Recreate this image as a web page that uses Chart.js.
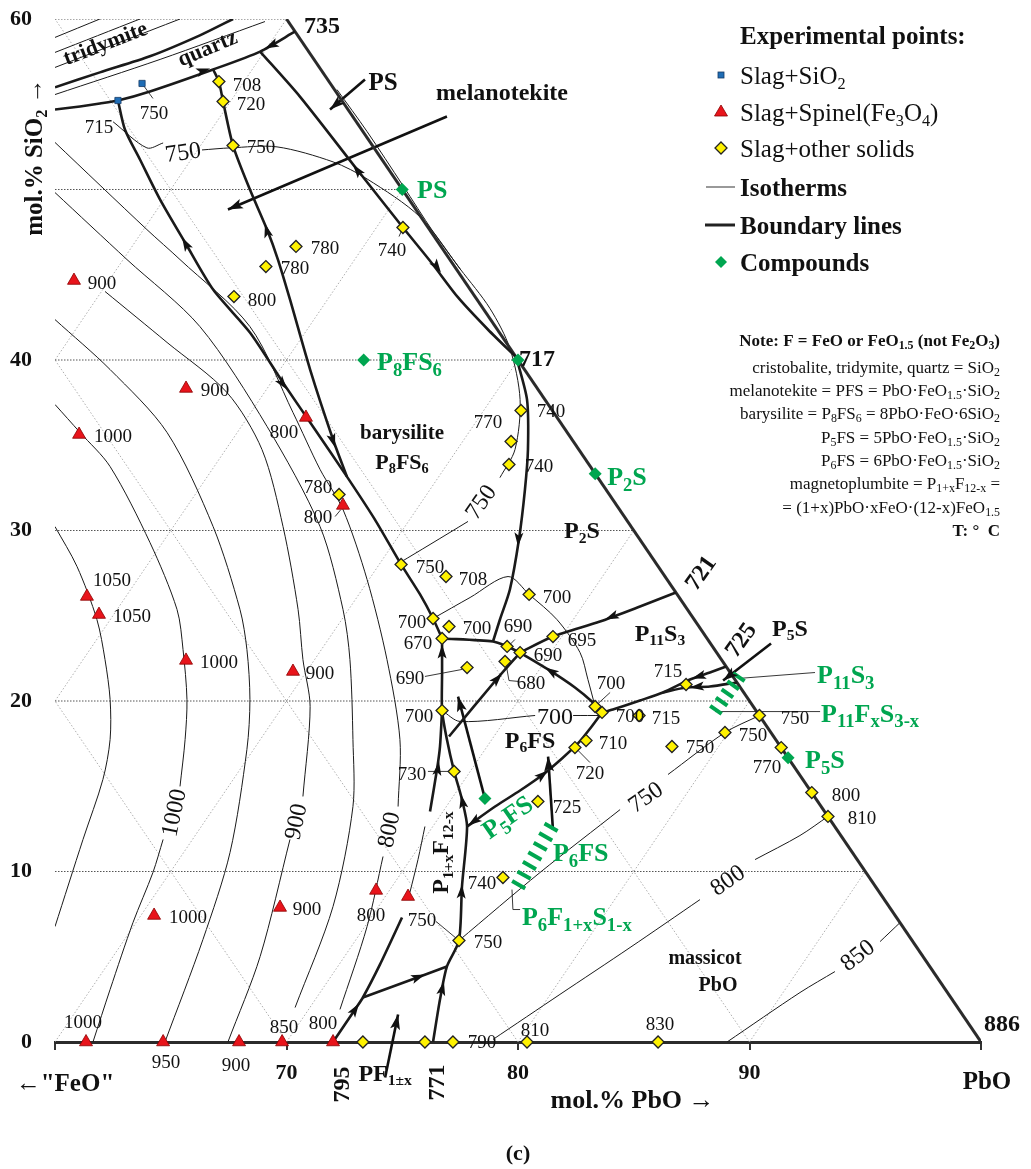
<!DOCTYPE html>
<html>
<head>
<meta charset="utf-8">
<title>PbO – "FeO" – SiO2 liquidus projection</title>
<script src="https://cdn.jsdelivr.net/npm/chart.js@4.4.1/dist/chart.umd.min.js"></script>
<style>
html,body{margin:0;padding:0;background:#fff;}
canvas{display:block;}
</style>
</head>
<body>
<canvas id="chart" width="1031" height="1169"></canvas>
<script>
// Plot coordinates of the ternary projection:
//   x = mol% PbO + ½·mol% SiO2,   y = mol% SiO2
const SERIF = '"Liberation Serif","Times New Roman",serif';
const GREEN = '#00a650';

// ---------- experimental points ----------
const slagSiO2   = [[62.72,55.22],[63.76,56.22]];
const slagSiO2T  = [715, 750];

const slagSpinel = [
  [60.82,44.66],[65.66,38.33],[61.04,35.63],[70.84,36.63],[72.44,31.47],
  [61.38,26.13],[61.90,25.07],[65.66,22.38],[70.28,21.73],[64.28,7.42],
  [69.72,7.89],[73.87,8.89],[75.25,8.53],[61.34,0],[64.67,0],
  [67.95,0],[69.81,0],[72.01,0]];
const slagSpinelT = [900,900,1000,800,800,1050,1050,1000,900,1000,900,800,750,1000,950,900,850,800];

const slagOther = [
  [67.08,56.33],[67.26,55.16],[67.69,52.58],[70.41,46.66],[69.11,45.48],
  [67.73,43.72],[75.03,47.77],[72.27,32.11],[80.13,37.04],[79.70,35.22],
  [79.61,33.87],[74.95,28.01],[76.89,27.30],[80.48,26.25],[76.33,24.84],
  [77.02,24.37],[76.72,23.67],[79.53,23.20],[80.09,22.84],[81.51,23.78],
  [79.44,22.32],[77.80,21.96],[76.72,19.44],[83.33,19.68],[83.63,19.33],
  [85.23,19.15],[82.94,17.68],[82.46,17.27],[86.65,17.33],[87.26,20.97],
  [90.43,19.15],[88.94,18.15],[91.37,17.27],[92.69,14.63],[93.39,13.23],
  [77.24,15.87],[80.86,14.11],[79.35,9.65],[77.45,5.95],[73.30,0],
  [75.98,0],[77.19,0],[80.39,0],[86.05,0]];
const slagOtherT = [708,720,750,780,780,800,740,780,740,770,740,750,708,700,700,700,670,690,690,695,
  680,690,700,700,700,715,710,720,750,715,750,750,770,800,810,730,725,740,750,null,null,790,810,830];

// compounds as molar ratios PbO : FeOx : SiO2
const compoundNames    = ['PS','P3S2','P2S','P8FS6','P5FS','P5S'];
const compoundFormulas = [[1,0,1],[3,0,2],[2,0,1],[8,1,6],[5,1,1],[5,0,1]];

// solid-solution ranges
const ssP11S3 = [[89.59,21.50],[88.47,19.33]];
const ssP6FS  = [[81.47,12.70],[79.96,9.06]];

// ---------- isotherms (segments, broken where labelled) ----------
const isotherms = [
  [[60,30.23],[60.95,27.89],[61.81,24.78],[62.16,22.43],[62.38,20.09],[62.38,17.74],[62.07,15.40],[61.21,11.88],[60,6.77]],
  [[61.64,0],[62.38,3.08],[63.37,7.01],[64.23,9.94],[64.67,11.88]],
  [[65.40,14.99],[65.62,17.74],[65.70,20.09],[65.53,23.02],[65.27,25.37],[64.10,29.30],[62.38,33.75],[61.08,35.75],[60,37.39]],
  [[64.75,0],[66.39,6.01],[67.56,11.11],[68.29,17.16],[68.42,20.09],[68.29,23.02],[67.99,25.37],[66.83,30.23],[64.84,35.75],[62.38,39.44],[60,42.37]],
  [[67.47,0],[68.86,5.01],[70.15,11.88]],
  [[70.71,14.40],[71.02,19.68],[70.71,22.43],[70.50,25.37],[69.85,30.23],[68.94,34.75],[67.43,38.09],[64.84,41.03],[62.16,44.02]],
  [[70.37,2.02],[72.01,7.95],[72.87,13.81],[72.87,17.74],[72.74,22.43],[72.44,25.37],[71.45,30.23],[69.16,36.10],[66.26,41.96],[63.11,45.89],[60,49.82]],
  [[72.31,1.91],[73.48,6.77],[74.17,10.88]],
  [[74.82,13.81],[74.90,17.74],[74.34,22.43],[73.48,27.13],[72.44,31.23],[71.45,33.58],[70.28,36.92],[68.42,41.96],[65.40,45.89],[63.97,47.65],[60,52.76]],
  [[62.51,53.97],[63.97,52.44],[64.67,52.73]],
  [[66.35,52.32],[67.56,52.44],[69.59,52.50],[72.01,51.62],[73.48,50.62],[75.77,48.39],[77.50,45.34],[78.79,43.02],[79.65,40.68],[80.09,37.68],[79.87,34.75],[79.22,33.10]],
  [[77.84,30.53],[76.20,29.18],[74.90,28.12]],
  [[72.18,55.86],[73.48,53.40],[75.03,50.23],[76.33,47.53],[77.50,45.34]],
  [[75.33,8.77],[75.68,10.70],[75.98,12.64]],
  [[77.45,5.95],[80.95,9.94],[84.41,13.63]],
  [[86.48,15.69],[88.94,18.15],[90.43,19.15]],
  [[78.92,0.15],[81.81,2.79],[84.84,5.54],[87.86,8.35]],
  [[90.24,10.70],[92.18,12.11],[93.39,13.23]],
  [[89.03,0],[92.18,2.90],[93.69,4.13]],
  [[95.64,5.89],[96.50,7.00]],
  [[76.72,19.44],[77.50,18.80],[80.74,19.15]],
  [[82.38,19.15],[83.63,19.15]],
  [[76.33,24.84],[77.93,26.07],[79.57,27.30],[80.48,26.25],[81.68,24.78],[82.68,22.84],[83.02,21.26],[83.33,19.68]],
  // SiO2 primary field
  [[60,57.16],[65.40,60]],
  [[60,58.04],[63.67,60]],
  [[60,58.92],[61.94,60]],
  [[60,55.57],[64.54,57.63],[69.07,59.85]]
];

// ---------- boundary lines ----------
const boundaries = [
  [[60,54.69],[61.08,54.87],[61.94,55.04],[62.72,55.22],[64.10,55.75],[66.83,57.04],[68.86,58.09],[70.37,59.27]],
  [[60,55.99],[61.94,56.87],[64.10,57.81],[66.26,59.04],[67.69,60]],
  [[62.72,55.22],[63.02,53.52],[63.67,51.76],[64.54,49.41],[65.62,46.89],[66.83,44.13],[68.42,41.61],[69.85,38.67],[71.23,35.92],[72.61,33.16],[73.82,30.64],[74.95,28.01],[75.77,26.25],[76.33,24.84],[76.72,23.67]],
  [[66.83,57.04],[67.08,56.33],[67.26,55.16],[67.69,52.58],[68.42,50.00],[69.16,47.65],[69.63,45.89],[70.15,43.55],[71.02,39.44],[72.01,35.34],[72.61,33.16]],
  [[68.86,58.09],[70.58,55.45],[73.05,51.17],[75.03,47.77],[76.29,45.66],[77.41,43.67],[78.70,41.79],[79.93,40.15]],
  [[79.93,40.15],[80.39,37.68],[80.43,34.75],[80.30,32.40],[80.04,29.47],[79.65,26.54],[79.22,24.78],[78.92,23.49]],
  [[76.72,23.67],[78.92,23.49],[79.53,23.20],[80.09,22.84]],
  [[86.82,26.36],[85.27,25.54],[83.54,24.66],[81.51,23.78],[80.09,22.84]],
  [[80.09,22.84],[81.30,21.85],[82.46,20.79],[83.24,19.91],[83.63,19.33]],
  [[83.63,19.33],[84.10,19.50],[85.27,20.03],[86.26,20.50],[87.43,21.26],[88.29,21.67],[88.99,22.02]],
  [[86.26,20.50],[87.26,20.79],[88.29,20.85],[89.46,21.09]],
  [[83.63,19.33],[83.15,18.45],[82.59,17.51],[81.90,16.63],[81.08,15.69],[80.09,14.75],[79.01,13.81],[77.80,12.64]],
  [[76.33,0],[76.63,2.49],[76.93,4.43],[77.45,5.95],[77.58,9.12],[77.80,12.64],[77.58,14.22],[77.24,15.87],[76.93,17.74],[76.72,19.44],[76.72,21.55],[76.72,23.67]],
  [[76.72,19.44],[76.63,17.33],[76.50,15.98],[76.20,13.52]],
  [[76.93,4.43],[75.77,3.84],[73.30,2.61]],
  [[72.01,0],[72.96,1.91],[73.30,2.61],[74.04,4.55],[74.99,7.30]],
  [[77.02,17.92],[79.14,21.38],[80.09,22.84]]
];
// direction arrows on boundary lines: tip x, tip y, tail x, tail y
const boundaryArrows = [
  [66.70,57.10,66.05,56.81],[69.07,58.27,69.72,58.70],[65.49,47.18,65.83,46.36],[70.02,38.27,69.63,38.97],
  [69.07,47.99,69.24,47.17],[72.10,34.87,71.92,35.63],[72.87,51.47,73.26,50.77],[76.67,45.13,76.37,45.72],
  [80.00,29.06,80.04,29.88],[83.76,24.78,84.28,25.07],[81.17,21.97,81.51,21.67],[87.52,21.32,87.95,21.50],
  [87.43,20.79,87.86,20.85],[81.30,15.92,80.86,15.45],[77.84,12.70,78.27,13.11],[76.72,23.31,76.72,22.55],
  [77.54,14.52,77.67,13.64],[77.58,9.24,77.54,8.36],[76.80,3.55,76.67,2.79],[76.59,16.45,76.50,15.69],
  [75.98,3.96,75.42,3.67],[73.13,2.26,72.79,1.55],[79.31,21.61,78.96,21.09]
];
// pointer arrows (from, to)
const pointers = [
  [[78.57,14.29],[77.41,20.26]],
  [[81.51,12.46],[81.30,16.74]],
  [[74.26,-2.08],[74.82,1.61]],
  [[73.39,56.45],[71.88,54.69]],
  [[76.93,54.28],[67.47,48.83]],
  [[90.93,23.37],[88.86,21.20]]
];
// thin leader lines
const leaders = [
  [[92.83,21.67],[89.50,21.32]],
  [[93.05,19.38],[88.51,19.38]],
  [[79.74,8.94],[79.78,7.77],[80.09,7.77]],
  [[63.76,56.22],[64.23,55.34]],
  [[75.98,21.44],[77.58,21.85]],
  [[79.48,22.20],[79.61,21.20],[80.00,21.15]],
  [[79.57,23.20],[79.87,23.61]],
  [[83.41,19.79],[83.98,20.50]],
  [[76.11,15.87],[77.02,15.87]],
  [[82.55,17.16],[83.11,16.39]],
  [[72.10,30.82],[72.35,31.23]],
  [[76.46,7.07],[77.45,5.95]],
  [[74.86,47.24],[75.03,47.77]]
];

// ternary grid values
const gridSiO2 = [10,20,30,40,50,60];
const gridPbO  = [40,50,60,70,80,90];
const gridFeO  = [10,20,30];

// ---------- label placement (plot coordinates) ----------
const slagSiO2At = [[61.90,53.70],[64.28,54.52]];
const slagSpinelAt = [
  [62.03,44.55],[66.91,38.27],[62.51,35.57],[69.89,35.81],[71.36,30.82],
  [62.46,27.13],[63.33,25.01],[67.08,22.32],[71.45,21.67],[65.75,7.36],
  [70.89,7.83],[73.65,7.48],[75.85,7.18],[61.21,1.20],[64.79,-1.14],
  [67.82,-1.32],[69.89,0.91],[71.58,1.14]];
const slagOtherAt = [
  [68.29,56.16],[68.47,55.04],[68.90,52.52],[71.66,46.60],[70.37,45.43],
  [68.94,43.55],[74.56,46.48],[71.36,32.58],[81.43,37.04],[78.70,36.39],
  [80.91,33.81],[76.20,27.89],[78.06,27.18],[81.68,26.13],[75.42,24.66],
  [78.23,24.31],[75.68,23.43],[80.00,24.43],[81.30,22.73],[82.76,23.61],
  [80.56,21.09],[75.33,21.38],[75.72,19.15],[84.02,21.09],[84.84,19.15],
  [86.39,19.03],[84.10,17.57],[83.11,15.81],[87.86,17.33],[86.48,21.79],
  [91.97,19.03],[90.15,18.04],[90.76,16.16],[94.17,14.52],[94.86,13.17],
  [75.42,15.75],[82.12,13.81],[78.45,9.35],[78.70,5.89],null,
  null,[78.45,0],[80.73,0.73],[86.13,1.09]];

// [text, x, y, size, rotation]
const fieldLabels = [
  ['tridymite',62.16,58.62,22,-21],['quartz',66.57,58.33,22,-23],['PS',74.17,56.33,25,0],
  ['melanotekite',79.31,55.75,24,0],['barysilite',74.99,35.81,21,0],['P_8FS_6',74.99,34.05,22,0],
  ['P_2S',82.76,30.05,24,0],['P_{11}S_3',86.13,24.02,24,0],['P_5S',91.75,24.31,24,0],
  ['P_6FS',80.52,17.74,24,0],['P_{1+x}F_{12-x}',76.63,11.11,24,-90],['massicot',88.08,4.96,20,0],
  ['PbO',88.64,3.37,20,0],['PF_{1±x}',74.26,-1.79,24,0],['721',87.86,27.54,24,-55],
  ['725',89.59,23.61,24,-55],['735',71.53,59.68,24,0],['717',80.82,40.15,24,0],
  ['886',100.91,1.14,24,0],['795',72.35,-2.49,24,-90],['771',76.46,-2.38,24,-90]
];
// [text, x, y, rotation, align]
const compoundLabels = [
  ['PS',75.64,50.0,0,'left'],['P_8FS_6',73.91,39.91,0,'left'],['P_2S',83.85,33.16,0,'left'],
  ['P_5S',92.40,16.57,0,'left'],['P_{11}S_3',92.92,21.55,0,'left'],['P_{11}F_xS_{3-x}',93.09,19.27,0,'left'],
  ['P_6FS',81.51,11.11,0,'left'],['P_6F_{1+x}S_{1-x}',80.17,7.36,0,'left'],['P_5FS',79.53,13.22,-35,'center']
];
// [text, x, y, rotation]
const isothermLabels = [
  ['750',65.53,52.23,-8],['1000',65.10,13.46,-78],['900',70.37,12.93,-78],['800',74.38,12.46,-78],
  ['750',78.36,31.70,-55],['700',81.60,19.15,0],['750',85.49,14.40,-35],['800',89.03,9.53,-35],['850',94.64,5.13,-38]
];

const noteLines = [
  ['Note: F = FeO or FeO_{1.5} (not Fe_2O_3)', true],
  ['cristobalite, tridymite, quartz = SiO_2', false],
  ['melanotekite = PFS = PbO·FeO_{1.5}·SiO_2', false],
  ['barysilite = P_8FS_6 = 8PbO·FeO·6SiO_2', false],
  ['P_5FS = 5PbO·FeO_{1.5}·SiO_2', false],
  ['P_6FS = 6PbO·FeO_{1.5}·SiO_2', false],
  ['magnetoplumbite = P_{1+x}F_{12-x} =', false],
  ['= (1+x)PbO·xFeO·(12-x)FeO_{1.5}', false],
  ['T: °  C', true]
];

// ---------- helpers ----------
const pts = a => a.map(p => ({x: p[0], y: p[1]}));
function ternary(f) { const t = f[0] + f[1] + f[2]; const pb = 100 * f[0] / t, si = 100 * f[2] / t; return [pb + si / 2, si]; }
const compounds = compoundFormulas.map(ternary);

function fontStr(size, bold) { return (bold ? 'bold ' : '') + size + 'px ' + SERIF; }
function parseRich(s) {
  const out = []; let buf = ''; let i = 0;
  while (i < s.length) {
    const c = s[i];
    if (c === '_') {
      if (buf) { out.push({t: buf, sub: false}); buf = ''; }
      if (s[i + 1] === '{') { const j = s.indexOf('}', i); out.push({t: s.slice(i + 2, j), sub: true}); i = j + 1; }
      else { out.push({t: s[i + 1], sub: true}); i += 2; }
    } else { buf += c; i++; }
  }
  if (buf) out.push({t: buf, sub: false});
  return out;
}
function rich(ctx, str, x, y, o) {
  const segs = parseRich(str);
  const size = o.size, ss = size * (o.sub || 0.65);
  let w = 0;
  segs.forEach(s => { ctx.font = fontStr(s.sub ? ss : size, o.bold); s.w = ctx.measureText(s.t).width; w += s.w; });
  ctx.save();
  ctx.translate(x, y);
  if (o.rot) ctx.rotate(o.rot * Math.PI / 180);
  ctx.fillStyle = o.color || '#111';
  ctx.textAlign = 'left';
  ctx.textBaseline = 'alphabetic';
  let cx = o.align === 'left' ? 0 : (o.align === 'right' ? -w : -w / 2);
  const base = size * 0.34;
  segs.forEach(s => { ctx.font = fontStr(s.sub ? ss : size, o.bold); ctx.fillText(s.t, cx, s.sub ? base + size * 0.2 : base); cx += s.w; });
  ctx.restore();
}
function head(ctx, x1, y1, x2, y2, len, wid) {
  const a = Math.atan2(y2 - y1, x2 - x1);
  ctx.save();
  ctx.translate(x2, y2); ctx.rotate(a);
  ctx.beginPath();
  ctx.moveTo(0, 0); ctx.lineTo(-len, wid / 2); ctx.lineTo(-len * 0.78, 0); ctx.lineTo(-len, -wid / 2);
  ctx.closePath();
  ctx.fillStyle = '#111'; ctx.fill();
  ctx.restore();
}

// ---------- datasets ----------
const datasets = [];
function addLine(data, color, width, extra) {
  datasets.push(Object.assign({
    data: pts(data), showLine: true, pointRadius: 0, pointHoverRadius: 0,
    borderColor: color, backgroundColor: color, borderWidth: width, fill: false, tension: 0, order: 5
  }, extra || {}));
}
// markers (drawn on top)
datasets.push({ data: pts(slagOther), pointStyle: 'rectRot', pointRadius: 6, backgroundColor: '#fff200', borderColor: '#222', borderWidth: 1.3, showLine: false, order: 0, clip: false });
datasets.push({ data: pts(slagSpinel), pointStyle: 'triangle', pointRadius: 7.5, backgroundColor: '#e8141b', borderColor: '#8a0000', borderWidth: 0.8, showLine: false, order: 0, clip: false });
datasets.push({ data: pts(slagSiO2), pointStyle: 'rect', pointRadius: 4.4, backgroundColor: '#1f6db5', borderColor: '#163b66', borderWidth: 0.8, showLine: false, order: 0, clip: false });
datasets.push({ data: pts(compounds), pointStyle: 'rectRot', pointRadius: 6.5, backgroundColor: GREEN, borderColor: GREEN, borderWidth: 0, showLine: false, order: 0, clip: false });
// solid solution bars
addLine(ssP11S3, GREEN, 14, { borderDash: [4, 6], order: 1, borderCapStyle: 'butt' });
addLine(ssP6FS, GREEN, 15, { borderDash: [4, 7], order: 1, borderCapStyle: 'butt' });
// boundary lines and the PbO–SiO2 edge
boundaries.forEach(b => addLine(b, '#1a1a1a', 2.6, { tension: 0.25, order: 2 }));
addLine([[70, 60], [100, 0]], '#2b2b2b', 3, { order: 2 });
pointers.forEach(p => addLine(p, '#111', 2.6, { order: 2, clip: false }));
// isotherms and leaders
isotherms.forEach(s => addLine(s, '#1a1a1a', 1, { tension: 0.3, order: 3 }));
leaders.forEach(l => addLine(l, '#222', 0.9, { order: 3 }));
// ternary grid
gridSiO2.forEach(s => addLine([[60, s], [100 - s / 2, s]], '#555', 1, { borderDash: [1.5, 1.5], order: 4 }));
gridPbO.forEach(p => {
  const s0 = Math.max(0, 2 * (60 - p)), s1 = Math.min(60, 100 - p);
  addLine([[p + s0 / 2, s0], [p + s1 / 2, s1]], '#9a9a9a', 0.8, { borderDash: [1.5, 2], order: 4 });
});
gridFeO.forEach(f => {
  const s1 = Math.min(60, 2 * (40 - f));
  addLine([[100 - f, 0], [100 - f - s1 / 2, s1]], '#9a9a9a', 0.8, { borderDash: [1.5, 2], order: 4 });
});

// ---------- annotation layer ----------
const annotate = {
  id: 'annotate',
  afterDatasetsDraw(chart) {
    const ctx = chart.ctx, xs = chart.scales.x, ys = chart.scales.y, ca = chart.chartArea;
    const X = v => xs.getPixelForValue(v), Y = v => ys.getPixelForValue(v);

    // arrowheads on boundaries
    boundaryArrows.forEach(a => head(ctx, X(a[2]), Y(a[3]), X(a[0]), Y(a[1]), 14, 9));
    pointers.forEach(p => head(ctx, X(p[0][0]), Y(p[0][1]), X(p[1][0]), Y(p[1][1]), 15, 10));

    // temperature labels of experimental points
    const tl = (list, temps) => list.forEach((p, i) => { if (p && temps[i] != null) rich(ctx, String(temps[i]), X(p[0]), Y(p[1]), { size: 19 }); });
    tl(slagSiO2At, slagSiO2T);
    tl(slagSpinelAt, slagSpinelT);
    tl(slagOtherAt, slagOtherT);

    isothermLabels.forEach(l => rich(ctx, l[0], X(l[1]), Y(l[2]), { size: 24, rot: l[3] }));
    fieldLabels.forEach(l => rich(ctx, l[0], X(l[1]), Y(l[2]), { size: l[3], rot: l[4], bold: true }));
    compoundLabels.forEach(l => rich(ctx, l[0], X(l[1]), Y(l[2]), { size: 26, rot: l[3], align: l[4], bold: true, color: GREEN, sub: 0.72 }));

    // axis titles and corner labels
    rich(ctx, 'mol.% SiO_2 →', ca.left - 22, Y(51.9), { size: 25, bold: true, rot: -90 });
    rich(ctx, 'mol.% PbO →', X(84.95), ca.bottom + 57, { size: 26, bold: true });
    rich(ctx, '←"FeO"', X(60) + 10, ca.bottom + 40, { size: 25, bold: true });
    rich(ctx, 'PbO', X(100) + 6, ca.bottom + 38, { size: 25, bold: true });
    rich(ctx, '(c)', X(80), ca.bottom + 111, { size: 22, bold: true });

    // legend
    const sx = ca.right - 260, tx = ca.right - 241, r0 = ca.top;
    const rows = [16, 56, 93, 129, 168, 206, 243].map(d => r0 + d);
    rich(ctx, 'Experimental points:', tx, rows[0], { size: 25, bold: true, align: 'left' });
    ctx.save();
    ctx.fillStyle = '#1f6db5'; ctx.strokeStyle = '#163b66'; ctx.lineWidth = 0.8;
    ctx.fillRect(sx - 3, rows[1] - 3, 6, 6); ctx.strokeRect(sx - 3, rows[1] - 3, 6, 6);
    ctx.beginPath(); ctx.moveTo(sx, rows[2] - 7); ctx.lineTo(sx + 6.5, rows[2] + 4); ctx.lineTo(sx - 6.5, rows[2] + 4); ctx.closePath();
    ctx.fillStyle = '#e8141b'; ctx.fill(); ctx.strokeStyle = '#8a0000'; ctx.stroke();
    ctx.beginPath(); ctx.moveTo(sx, rows[3] - 6); ctx.lineTo(sx + 6, rows[3]); ctx.lineTo(sx, rows[3] + 6); ctx.lineTo(sx - 6, rows[3]); ctx.closePath();
    ctx.fillStyle = '#fff200'; ctx.fill(); ctx.strokeStyle = '#222'; ctx.lineWidth = 1.3; ctx.stroke();
    ctx.beginPath(); ctx.moveTo(sx - 15, rows[4]); ctx.lineTo(sx + 14, rows[4]); ctx.strokeStyle = '#777'; ctx.lineWidth = 1.5; ctx.stroke();
    ctx.beginPath(); ctx.moveTo(sx - 16, rows[5]); ctx.lineTo(sx + 14, rows[5]); ctx.strokeStyle = '#222'; ctx.lineWidth = 3; ctx.stroke();
    ctx.beginPath(); ctx.moveTo(sx, rows[6] - 6); ctx.lineTo(sx + 6, rows[6]); ctx.lineTo(sx, rows[6] + 6); ctx.lineTo(sx - 6, rows[6]); ctx.closePath();
    ctx.fillStyle = GREEN; ctx.fill();
    ctx.restore();
    rich(ctx, 'Slag+SiO_2', tx, rows[1], { size: 25, align: 'left' });
    rich(ctx, 'Slag+Spinel(Fe_3O_4)', tx, rows[2], { size: 25, align: 'left' });
    rich(ctx, 'Slag+other solids', tx, rows[3], { size: 25, align: 'left' });
    rich(ctx, 'Isotherms', tx, rows[4], { size: 25, bold: true, align: 'left' });
    rich(ctx, 'Boundary lines', tx, rows[5], { size: 25, bold: true, align: 'left' });
    rich(ctx, 'Compounds', tx, rows[6], { size: 25, bold: true, align: 'left' });

    // composition note
    const nx = ca.right + 19;
    [321, 348, 371, 394, 418, 441, 464, 488, 511].forEach((d, i) =>
      rich(ctx, noteLines[i][0], nx, r0 + d, { size: 17, bold: noteLines[i][1], align: 'right', sub: 0.7 }));
  }
};

new Chart(document.getElementById('chart'), {
  type: 'scatter',
  data: { datasets },
  options: {
    responsive: false, devicePixelRatio: 1, animation: false, events: [],
    layout: { padding: { top: 19, right: 50, left: 0, bottom: 0 } },
    plugins: { legend: { display: false }, tooltip: { enabled: false } },
    scales: {
      x: {
        type: 'linear', min: 60, max: 100, position: 'bottom',
        afterFit(s) { s.height = 127; s.paddingLeft = 0; s.paddingRight = 0; },
        ticks: { stepSize: 10, autoSkip: false, maxRotation: 0, padding: 10, color: '#111',
                 font: { family: SERIF, size: 22, weight: 'bold' },
                 callback: v => (v > 60 && v < 100) ? String(v) : '' },
        grid: { display: true, drawOnChartArea: false, drawTicks: true, tickLength: 8, color: '#333', lineWidth: 2 },
        border: { display: true, color: '#2b2b2b', width: 3 }
      },
      y: {
        type: 'linear', min: 0, max: 60,
        afterFit(s) { s.width = 55; s.paddingTop = 0; s.paddingBottom = 0; },
        ticks: { stepSize: 10, padding: 0, color: '#111',
                 font: { family: SERIF, size: 22, weight: 'bold' },
                 callback: v => v === 50 ? '' : String(v) },
        grid: { display: false, drawTicks: true, tickLength: 23 },
        border: { display: false }
      }
    }
  },
  plugins: [annotate]
});
</script>
</body>
</html>
